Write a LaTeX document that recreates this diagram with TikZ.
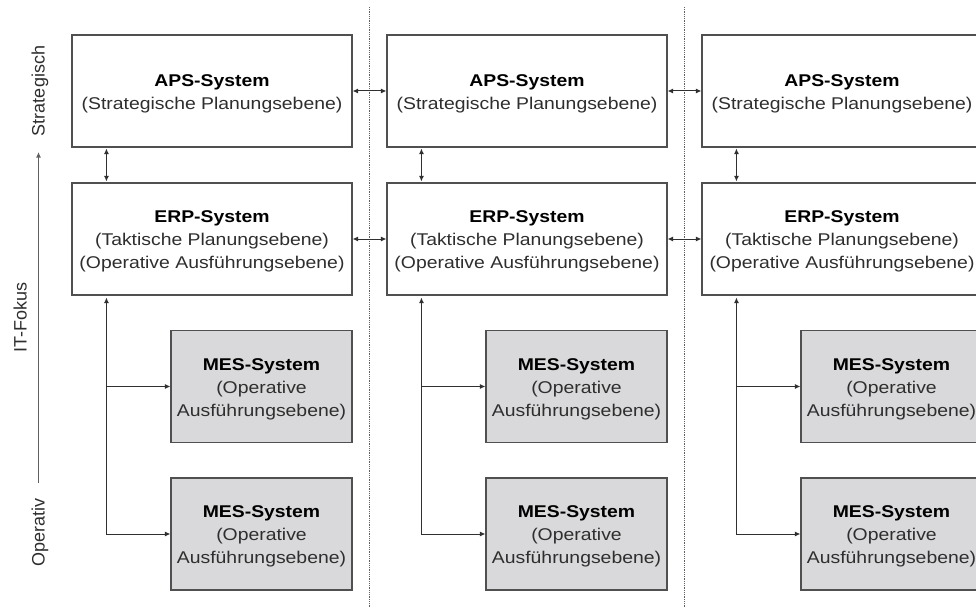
\documentclass[tikz,border=0pt]{standalone}
\usepackage{fontspec}
\setmainfont[FakeStretch=1.14]{Liberation Sans}
\newfontfamily\axisfont{Liberation Sans}
\usetikzlibrary{arrows.meta,calc}
\definecolor{boxline}{HTML}{505050}
\definecolor{mesfill}{HTML}{D9D9DB}
\definecolor{subtext}{HTML}{2E2E2E}
\definecolor{conn}{HTML}{303030}
\definecolor{sepcol}{HTML}{606060}
\begin{document}
\begin{tikzpicture}[x=1pt,y=-1pt,
  sysbox/.style={draw=boxline, line width=1.1pt, minimum width=280pt, minimum height=112pt, inner sep=0pt},
  mesbox/.style={sysbox, fill=mesfill, minimum width=181pt, minimum height=112pt},
  txt/.style={align=center, font=\fontsize{17}{23}\selectfont, text=subtext, inner sep=0pt},
  axlbl/.style={font=\axisfont\fontsize{18}{20}\selectfont, text=subtext, inner sep=0pt, rotate=90, anchor=base},
  conline/.style={draw=conn, line width=1pt},
  dblarrow/.style={conline, {Latex[length=5.5pt,width=5pt]}-{Latex[length=5.5pt,width=5pt]}, shorten <=1pt, shorten >=1pt},
  onearrow/.style={conline, -{Latex[length=5.5pt,width=5pt]}},
  axisarrow/.style={draw=sepcol, line width=1.1pt, -{Latex[length=5.5pt,width=5pt]}},
  sepline/.style={draw=sepcol, line width=0.8pt, densely dotted}
]
\useasboundingbox (0,0) rectangle (976,607);
\clip (0,0) rectangle (976,607);

% separators
\coordinate (s1top) at (369,7);
\coordinate (s1bot) at (369,607);
\coordinate (s2top) at (684,7);
\coordinate (s2bot) at (684,607);
\draw[sepline] (s1top) -- (s1bot);
\draw[sepline] (s2top) -- (s2bot);

% axis
\coordinate (axbot) at (38.5,483);
\coordinate (axtop) at (38.5,152);
\draw[axisarrow] (axbot) -- (axtop);
\node[axlbl] (lblS) at (44.5,91) {Strategisch};
\node[axlbl] (lblI) at (26.5,317.5) {IT-Fokus};
\node[axlbl] (lblO) at (44.5,532.5) {Operativ};

\foreach \i/\dx in {1/0,2/315,3/630}{
  \node[sysbox] (aps\i) at (212+\dx,91) {};
  \node[txt] (apst\i) at ([yshift=-3pt]aps\i.center) {\textcolor{black}{\textbf{APS-System}}\\(Strategische Planungsebene)};
  \node[sysbox] (erp\i) at (212+\dx,239) {};
  \node[txt] (erpt\i) at ([yshift=-2.5pt]erp\i.center) {\textcolor{black}{\textbf{ERP-System}}\\(Taktische Planungsebene)\\(Operative Ausführungsebene)};
  \node[mesbox] (mesa\i) at (261.5+\dx,386.5) {};
  \node[txt] (mesat\i) at ([yshift=-3pt]mesa\i.center) {\textcolor{black}{\textbf{MES-System}}\\(Operative\\Ausführungsebene)};
  \node[mesbox] (mesb\i) at (261.5+\dx,534) {};
  \node[txt] (mesbt\i) at ([yshift=-2.5pt]mesb\i.center) {\textcolor{black}{\textbf{MES-System}}\\(Operative\\Ausführungsebene)};
  \coordinate (ea\i) at ($(aps\i.south west)+(35,0)$);
  \coordinate (eb\i) at ($(erp\i.north west)+(35,0)$);
  \coordinate (ec\i) at ($(erp\i.south west)+(35,0)$);
  \draw[dblarrow] (ea\i) -- (eb\i);
  \draw[onearrow, shorten >=2pt] (ec\i |- mesb\i.west) -- (ec\i);
  \draw[onearrow] (ec\i |- mesa\i.west) -- (mesa\i.west);
  \draw[onearrow] (ec\i |- mesb\i.west) -- (mesb\i.west);
}
\draw[dblarrow, shorten <=0pt, shorten >=0pt] (aps1.east) -- (aps2.west);
\draw[dblarrow, shorten <=0pt, shorten >=0pt] (aps2.east) -- (aps3.west);
\draw[dblarrow, shorten <=0pt, shorten >=0pt] (erp1.east) -- (erp2.west);
\draw[dblarrow, shorten <=0pt, shorten >=0pt] (erp2.east) -- (erp3.west);
\end{tikzpicture}
\end{document}
